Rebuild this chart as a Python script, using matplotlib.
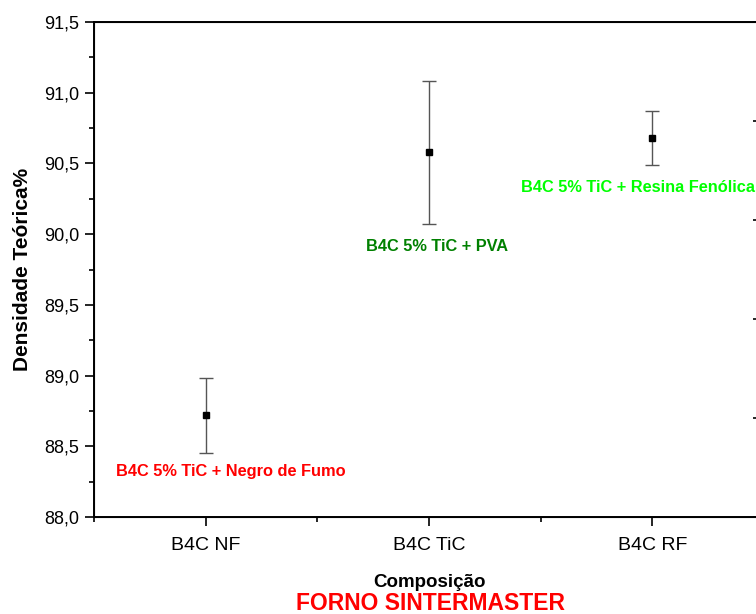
import matplotlib
matplotlib.use("Agg")
from matplotlib import pyplot as plt
from matplotlib.ticker import FuncFormatter, MultipleLocator

plt.rcParams["font.family"] = ["Liberation Sans", "DejaVu Sans"]

# data
categories = ["B4C NF", "B4C TiC", "B4C RF"]
densidade = [88.72, 90.58, 90.68]
erro = [0.265, 0.505, 0.19]
rotulos = ["B4C 5% TiC + Negro de Fumo", "B4C 5% TiC + PVA", "B4C 5% TiC + Resina Fenólica"]
rotulo_y = [88.32, 89.91, 90.33]
rotulo_cor = ["#ff0000", "#008000", "#00ff00"]

fig = plt.figure(figsize=(7.56, 6.14), dpi=100)
# right edge of the axes falls just outside the picture (cropped like the original)
ax = fig.add_axes([94 / 756, 1 - 517 / 614, 670 / 756, 495 / 614])

x = list(range(1, len(categories) + 1))
ax.errorbar(x, densidade, yerr=erro, fmt="s", color="black", ms=5,
            ecolor="#555555", elinewidth=1, capsize=5, capthick=1)

# annotations
offsets = [-0.4, -0.28, -0.59]
for xi, txt, ty, c, dx in zip(x, rotulos, rotulo_y, rotulo_cor, offsets):
    ax.text(xi + dx, ty, txt, color=c, fontsize=11.8, fontweight="bold",
            ha="left", va="center", clip_on=False)

ax.set_xlim(0.5, 3.5)
ax.set_ylim(88.0, 91.5)
ax.set_xticks(x)
ax.set_xticklabels(categories)
ax.xaxis.set_minor_locator(MultipleLocator(0.5))
ax.yaxis.set_major_locator(MultipleLocator(0.5))
ax.yaxis.set_minor_locator(MultipleLocator(0.25))
ax.yaxis.set_major_formatter(FuncFormatter(lambda v, p: ("%.1f" % v).replace(".", ",")))

ax.tick_params(which="major", direction="out", length=6.5, width=1.2, top=False, right=False)
ax.tick_params(which="minor", direction="out", length=3.5, width=1.2, top=False, right=False)
ax.tick_params(axis="x", labelsize=14, pad=8)
ax.tick_params(axis="y", labelsize=13, pad=4)
for s in ax.spines.values():
    s.set_linewidth(1.4)

# secondary axis on the right (only its inward ticks show at the edge)
ax2 = ax.twinx()
ax2.set_ylim(0, 5)
ax2.yaxis.set_major_locator(MultipleLocator(1))
ax2.tick_params(axis="y", direction="in", length=8, width=1.2, labelright=False)

ax.set_ylabel("Densidade Teórica%", fontsize=15, fontweight="bold", labelpad=9)
ax.set_xlabel("Composição", fontsize=13.5, fontweight="bold", labelpad=14)
fig.text(431 / 756, 1 - 604 / 614, "FORNO SINTERMASTER", color="#ff0000",
         fontsize=16.5, fontweight="bold", ha="center", va="center")

fig.savefig("out.png", dpi=100)
